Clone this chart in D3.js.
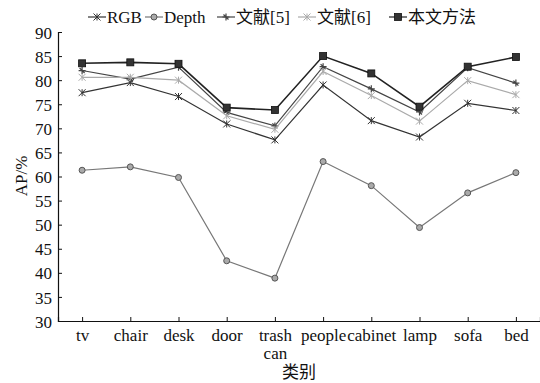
<!DOCTYPE html>
<html>
<head>
<meta charset="utf-8">
<script src="https://cdn.jsdelivr.net/npm/d3@7"></script>
<style>
body { margin: 0; background: #fff; }
text { font-family: "Liberation Serif", "Noto Sans CJK SC", serif; fill: #111; }
</style>
</head>
<body>
<div id="chart"></div>
<script>
// categories and series
var categories = ["tv", "chair", "desk", "door", "trash can", "people", "cabinet", "lamp", "sofa", "bed"];
var rgb    = [77.4, 79.5, 76.6, 70.9, 67.6, 79.0, 71.6, 68.2, 75.2, 73.7];
var depth  = [61.3, 62.0, 59.8, 42.5, 38.9, 63.1, 58.1, 49.4, 56.6, 60.8];
var ref5   = [82.0, 80.2, 82.7, 73.3, 70.5, 82.8, 78.2, 73.4, 82.6, 79.4];
var ref6   = [80.6, 80.6, 80.0, 72.6, 69.8, 81.8, 76.8, 71.5, 79.9, 77.0];
var ours   = [83.5, 83.7, 83.4, 74.3, 73.8, 85.0, 81.4, 74.5, 82.8, 84.8];
var yTicks = [30, 35, 40, 45, 50, 55, 60, 65, 70, 75, 80, 85, 90];

var series = [
    {name: "RGB", values: rgb, color: "#333", marker: "x"},
    {name: "Depth", values: depth, color: "#777", marker: "circle"},
    {name: "文献[5]", values: ref5, color: "#444", marker: "plus"},
    {name: "文献[6]", values: ref6, color: "#aaa", marker: "x"},
    {name: "本文方法", values: ours, color: "#222", marker: "square"}
];

var width = 540, height = 383;
var margin = {top: 32, left: 58};

var svg = d3.select("#chart").append("svg")
    .attr("width", width)
    .attr("height", height);

var x = d3.scaleLinear().domain([0.5, 10.5]).range([58, 540]);
var y = d3.scaleLinear().domain([30, 90]).range([321, 32]);

// y axis
var yAxis = d3.axisLeft(y).tickValues(yTicks).tickSize(-4).tickPadding(6);
var gy = svg.append("g")
    .attr("transform", "translate(58,0)")
    .call(yAxis);
gy.selectAll("text").style("font-size", "17px").attr("dy", "0.36em");

// x axis
var xAxis = d3.axisBottom(x)
    .tickValues(d3.range(1, 11))
    .tickSize(-4)
    .tickFormat(function(d) { return categories[d - 1]; })
    .tickPadding(8);
var gx = svg.append("g")
    .attr("transform", "translate(0,321)")
    .call(xAxis);
gx.selectAll(".tick text").style("font-size", "17px")
    .each(function(d) {
        var words = categories[d - 1].split(" ");
        var t = d3.select(this).text(null);
        words.forEach(function(w, i) {
            t.append("tspan").attr("x", 0).attr("dy", i == 0 ? "0.71em" : "1.05em").text(w);
        });
    });
svg.selectAll(".domain").attr("stroke", "#111").attr("stroke-width", 1.2);
svg.selectAll(".tick line").attr("stroke", "#111");

svg.append("text")
    .attr("x", 299).attr("y", 378)
    .attr("text-anchor", "middle")
    .style("font-size", "17px")
    .text("类别");

svg.append("text")
    .attr("transform", "translate(27,176) rotate(-90)")
    .attr("text-anchor", "middle")
    .style("font-size", "17px")
    .text("AP/%");

function drawMarker(g, type, color, cx, cy) {
    if (type == "square") {
        g.append("rect").attr("x", cx - 3.5).attr("y", cy - 3.5)
            .attr("width", 7).attr("height", 7)
            .attr("fill", "#333").attr("stroke", "#111").attr("stroke-width", 0.8);
    } else if (type == "circle") {
        g.append("circle").attr("cx", cx).attr("cy", cy).attr("r", 3)
            .attr("fill", "#aaa").attr("stroke", "#555").attr("stroke-width", 1);
    } else if (type == "x") {
        g.append("path")
            .attr("d", "M" + (cx - 3.5) + "," + (cy - 3.5) + "L" + (cx + 3.5) + "," + (cy + 3.5) +
                       "M" + (cx - 3.5) + "," + (cy + 3.5) + "L" + (cx + 3.5) + "," + (cy - 3.5) +
                       "M" + cx + "," + (cy - 3.5) + "L" + cx + "," + (cy + 3.5))
            .attr("stroke", color).attr("stroke-width", 1).attr("fill", "none");
    } else {
        g.append("path")
            .attr("d", "M" + (cx - 3.5) + "," + cy + "L" + (cx + 3.5) + "," + cy +
                       "M" + cx + "," + (cy - 3.5) + "L" + cx + "," + (cy + 3.5) +
                       "M" + (cx - 2.5) + "," + (cy - 2.5) + "L" + (cx + 2.5) + "," + (cy + 2.5))
            .attr("stroke", color).attr("stroke-width", 1.2).attr("fill", "none");
    }
}

var line = d3.line()
    .x(function(d, i) { return x(i + 1); })
    .y(function(d) { return y(d); });

series.forEach(function(s) {
    var g = svg.append("g");
    g.append("path")
        .attr("d", line(s.values))
        .attr("fill", "none")
        .attr("stroke", s.color)
        .attr("stroke-width", s.marker == "square" ? 1.6 : 1.2);
    s.values.forEach(function(v, i) {
        drawMarker(g, s.marker, s.color, x(i + 1), y(v));
    });
});

// legend
var legendX = [88, 145, 217, 298, 389];
series.forEach(function(s, i) {
    var g = svg.append("g").attr("transform", "translate(" + legendX[i] + ",17)");
    g.append("line").attr("x1", 0).attr("x2", 18).attr("y1", 0).attr("y2", 0)
        .attr("stroke", s.color).attr("stroke-width", 1.2);
    drawMarker(g, s.marker, s.color, 9, 0);
    g.append("text").attr("x", 19).attr("y", 6)
        .style("font-size", "17px")
        .text(s.name);
});
</script>
</body>
</html>
